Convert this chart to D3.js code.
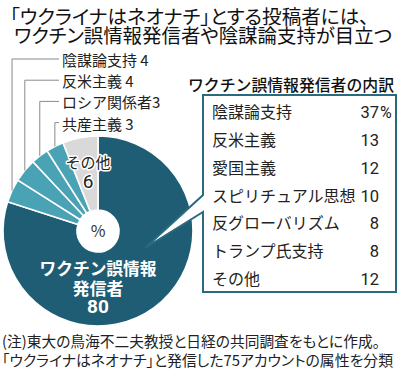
<!DOCTYPE html>
<html><head><meta charset="utf-8">
<script src="https://cdn.jsdelivr.net/npm/d3@7"></script>
<style>
html,body{margin:0;padding:0;background:#fff;}
svg{display:block;font-family:"Noto Sans CJK JP","Noto Sans",sans-serif;}
.palt{font-feature-settings:"palt";}
</style></head>
<body>
<script>
// ---- data ----
const titleLines = ["「ウクライナはネオナチ」とする投稿者には、", "ワクチン誤情報発信者や陰謀論支持が目立つ"];
const pieLabels = ["ワクチン誤情報発信者", "陰謀論支持", "反米主義", "ロシア関係者", "共産主義", "その他"];
const pieValues = [80, 4, 4, 3, 3, 6];
const pieUnit = "%";
const breakdownTitle = "ワクチン誤情報発信者の内訳";
const breakdownLabels = ["陰謀論支持", "反米主義", "愛国主義", "スピリチュアル思想", "反グローバリズム", "トランプ氏支持", "その他"];
const breakdownValues = [37, 13, 12, 10, 8, 8, 12];
const noteLines = ["(注)東大の鳥海不二夫教授と日経の共同調査をもとに作成。", "「ウクライナはネオナチ」と発信した75アカウントの属性を分類"];

// ---- layout ----
const W = 400, H = 370;
const dark = "#1f5d74", light = "#4aa2b5", grey = "#d9d9d9";
const svg = d3.select("body").append("svg").attr("width", W).attr("height", H);

// title
svg.append("text").attr("class", "palt").attr("x", 10).attr("y", 24).attr("font-size", 19.5)
  .attr("textLength", 359).attr("lengthAdjust", "spacingAndGlyphs").attr("fill", "#111").text(titleLines[0]);
svg.append("text").attr("class", "palt").attr("x", 14).attr("y", 43).attr("font-size", 19.5)
  .attr("textLength", 378).attr("lengthAdjust", "spacingAndGlyphs").attr("fill", "#111").text(titleLines[1]);

// pie
const cx = 98, cy = 231, R = 95, r0 = 21;
const pie = d3.pie().sort(null).value(d => d)(pieValues);
const arc = d3.arc().innerRadius(r0).outerRadius(R);
const colorOf = i => i === 0 ? dark : (i === pieValues.length - 1 ? grey : light);
const g = svg.append("g").attr("transform", `translate(${cx},${cy})`);
g.selectAll("path.slice").data(pie).join("path").attr("class", "slice")
  .attr("d", arc).attr("fill", (d, i) => colorOf(i))
  .attr("stroke", "#fff").attr("stroke-width", 1.6);
g.append("text").attr("x", 0).attr("y", 6).attr("text-anchor", "middle")
  .attr("font-size", 16).attr("fill", "#333").text(pieUnit);

// main slice label
const main = svg.append("g").attr("fill", "#fff").attr("font-weight", "bold").attr("text-anchor", "middle");
main.append("text").attr("x", cx).attr("y", 275).attr("font-size", 17)
  .attr("textLength", 117).attr("lengthAdjust", "spacingAndGlyphs").text(pieLabels[0].slice(0, 7));
main.append("text").attr("x", cx).attr("y", 295).attr("font-size", 17).text(pieLabels[0].slice(7));
main.append("text").attr("x", cx).attr("y", 313).attr("font-size", 19).attr("font-family", "Roboto, 'Noto Sans', sans-serif").text(pieValues[0]);

// "その他" label
const oth = svg.append("g").attr("text-anchor", "middle").attr("fill", "#222")
  .attr("stroke", "#fff").attr("stroke-width", 3).attr("paint-order", "stroke").attr("stroke-linejoin", "round");
oth.append("text").attr("x", 88).attr("y", 168).attr("font-size", 15).text(pieLabels[5]);
oth.append("text").attr("x", 88).attr("y", 188).attr("font-size", 19).attr("font-family", "Roboto, 'Noto Sans', sans-serif").text(pieValues[5]);

// leader labels
for (let i = 1; i <= 4; i++) {
  const d = pie[i];
  const mid = (d.startAngle + d.endAngle) / 2;
  const x = cx + R * Math.sin(mid), yEdge = cy - R * Math.cos(mid);
  const base = 66 + (i - 1) * 21.2;
  const yh = base - 7;
  svg.append("path").attr("d", `M${x},${yEdge}V${yh}H59`)
    .attr("fill", "none").attr("stroke", "#8a8a8a").attr("stroke-width", 1);
  svg.append("text").attr("x", 62).attr("y", base).attr("font-size", 15).attr("fill", "#222")
    .text(pieLabels[i] + (pieLabels[i].length > 5 ? "" : " ") + pieValues[i]);
}

// breakdown box with callout
const bx0 = 203, by0 = 95, bx1 = 396, by1 = 292;
svg.append("path")
  .attr("d", `M${bx0},${by0}H${bx1}V${by1}H${bx0}V212L145,248L${bx0},195Z`)
  .attr("fill", "#fff").attr("stroke", "#2a6a80").attr("stroke-width", 2).attr("stroke-linejoin", "miter");
svg.append("text").attr("x", 188).attr("y", 91).attr("font-size", 16).attr("font-weight", 500)
  .attr("textLength", 206).attr("lengthAdjust", "spacingAndGlyphs").attr("fill", "#111").text(breakdownTitle);

const rowY = d3.scalePoint().domain(breakdownLabels).range([118, 285]);
const rows = svg.append("g").attr("font-size", 16).attr("fill", "#222");
rows.selectAll("text.lab").data(breakdownLabels).join("text").attr("class", "lab")
  .attr("x", 212).attr("y", d => rowY(d)).text(d => d);
rows.selectAll("text.val").data(breakdownValues).join("text").attr("class", "val")
  .attr("x", 379).attr("y", (d, i) => rowY(breakdownLabels[i])).attr("text-anchor", "end")
  .attr("font-family", "Roboto, 'Noto Sans', sans-serif").attr("font-size", 16.5).text(d => d);
rows.append("text").attr("x", 380).attr("y", rowY(breakdownLabels[0]))
  .attr("font-family", "Roboto, 'Noto Sans', sans-serif").attr("font-size", 16).text("%");

// notes
svg.append("text").attr("class", "palt").attr("x", 2).attr("y", 347).attr("font-size", 15)
  .attr("textLength", 378).attr("lengthAdjust", "spacingAndGlyphs").attr("fill", "#222").text(noteLines[0]);
svg.append("text").attr("class", "palt").attr("x", 2).attr("y", 366).attr("font-size", 14.5)
  .attr("textLength", 391).attr("lengthAdjust", "spacingAndGlyphs").attr("fill", "#222").text(noteLines[1]);
</script>
</body></html>
